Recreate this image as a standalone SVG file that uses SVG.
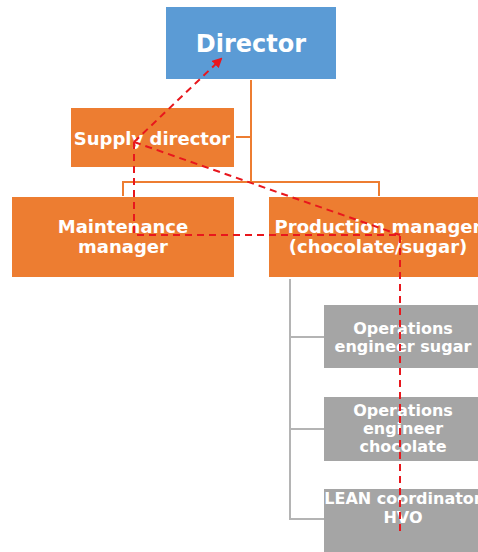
<svg xmlns="http://www.w3.org/2000/svg" width="478" height="552" viewBox="0 0 478 552">
  <style>
    .lbl { font-family: "DejaVu Sans", "Noto Sans", sans-serif; font-weight: bold; fill: #ffffff; text-anchor: middle; }
    .orgline { stroke: #ED7D31; stroke-width: 2; fill: none; }
    .greyline { stroke: #B4B4B4; stroke-width: 2; fill: none; }
    .blue { fill: #5B9BD5; }
    .orange { fill: #ED7D31; }
    .grey { fill: #A5A5A5; }
    .flow { stroke: #E8171D; stroke-width: 2; stroke-dasharray: 7 5; fill: none; }
  </style>
  <defs>
    <marker id="arrow" viewBox="0 0 10 10" refX="8" refY="5" markerWidth="5" markerHeight="5" orient="auto-start-reverse">
      <path d="M0,0 L10,5 L0,10 z" fill="#E8171D"/>
    </marker>
  </defs>
  <rect width="478" height="552" fill="#ffffff"/>

  <g id="hierarchy-lines">
    <path class="orgline" d="M251,80 V182 M236,137 H251 M123,196 V182 H379 V196"/>
    <path class="greyline" d="M290,279 V519 H324 M290,337 H324 M290,429 H324"/>
  </g>

  <g id="director">
    <rect class="blue" x="166" y="7" width="170" height="72"/>
    <text class="lbl" x="251" y="52" font-size="24">Director</text>
  </g>

  <g id="supply-director">
    <rect class="orange" x="71" y="108" width="163" height="59"/>
    <text class="lbl" x="152" y="145" font-size="18">Supply director</text>
  </g>

  <g id="maintenance-manager">
    <rect class="orange" x="12" y="197" width="222" height="80"/>
    <text class="lbl" x="123" y="233" font-size="18">Maintenance</text>
    <text class="lbl" x="123" y="253" font-size="18">manager</text>
  </g>

  <g id="production-manager">
    <rect class="orange" x="269" y="197" width="218" height="80"/>
    <text class="lbl" x="378" y="233" font-size="18">Production manager</text>
    <text class="lbl" x="378" y="253" font-size="18">(chocolate/sugar)</text>
  </g>

  <g id="ops-engineer-sugar">
    <rect class="grey" x="324" y="305" width="158" height="63"/>
    <text class="lbl" x="403" y="334" font-size="16">Operations</text>
    <text class="lbl" x="403" y="352" font-size="16">engineer sugar</text>
  </g>

  <g id="ops-engineer-chocolate">
    <rect class="grey" x="324" y="397" width="158" height="64"/>
    <text class="lbl" x="403" y="416" font-size="16">Operations</text>
    <text class="lbl" x="403" y="434" font-size="16">engineer</text>
    <text class="lbl" x="403" y="452" font-size="16">chocolate</text>
  </g>

  <g id="lean-coordinator">
    <rect class="grey" x="324" y="489" width="158" height="70"/>
    <text class="lbl" x="403" y="504" font-size="16">LEAN coordinator</text>
    <text class="lbl" x="403" y="523" font-size="16">HVO</text>
  </g>

  <g id="connectors">
    <line class="flow" x1="134" y1="142" x2="221" y2="59" marker-end="url(#arrow)"/>
    <line class="flow" x1="134" y1="142" x2="400" y2="235"/>
    <polyline class="flow" points="134,142 134,235 400,235 400,532"/>
  </g>
</svg>
